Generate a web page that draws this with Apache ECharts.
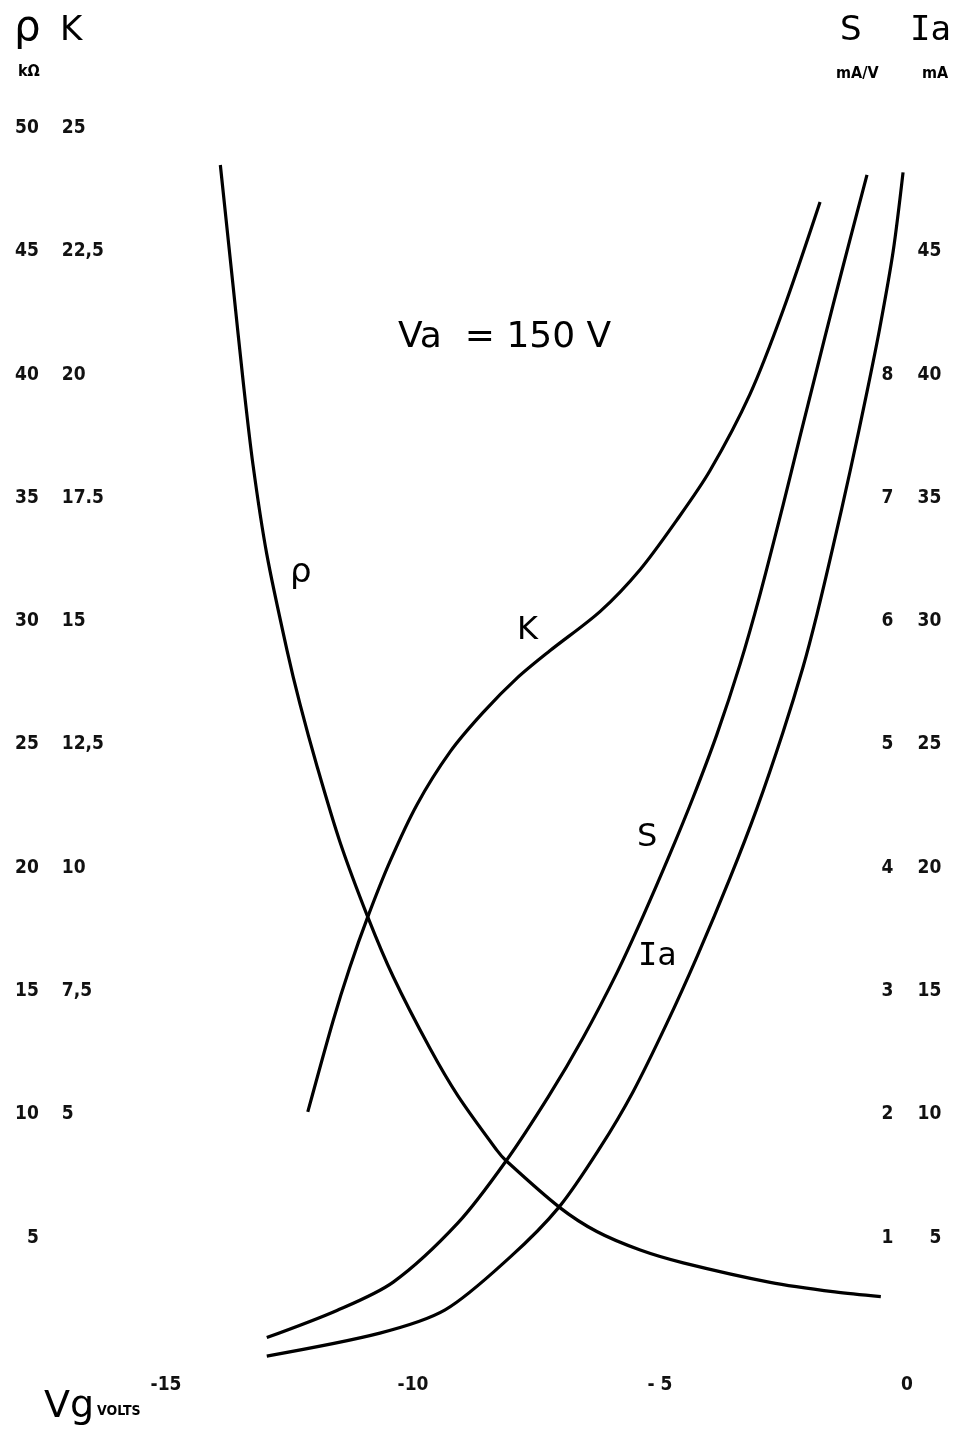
<!DOCTYPE html>
<html>
<head>
<meta charset="utf-8">
<title>Vg characteristics</title>
<script src="https://cdn.jsdelivr.net/npm/echarts@6/dist/echarts.min.js"></script>
<style>
  html, body { margin: 0; padding: 0; background: #fff; }
  #chart { width: 963px; height: 1434px; }
</style>
</head>
<body>
<div id="chart"></div>
<script>
// grid voltage ticks
const vgTicks = [-15, -10, -5, 0];
const vgTickLabels = ["-15", "-10", "- 5", "0"];

// left scales
const rhoTicks = [5, 10, 15, 20, 25, 30, 35, 40, 45, 50];
const kTicks = [5, 7.5, 10, 12.5, 15, 17.5, 20, 22.5, 25];
const kTickLabels = ["5", "7,5", "10", "12,5", "15", "17.5", "20", "22,5", "25"];

// right scales
const sTicks = [1, 2, 3, 4, 5, 6, 7, 8];
const iaTicks = [5, 10, 15, 20, 25, 30, 35, 40, 45];

// rho (kOhm) vs Vg
const rhoVg = [-13.9, -13.64, -13.44, -13.24, -12.96, -12.55, -12.29, -11.94, -11.48, -10.91, -10.4, -9.66, -9.09, -8.3, -8.12, -7.04, -6.28, -5.4, -4.53, -2.77, -1.46, -0.53];
const rhoVal = [48.5, 43.56, 39.76, 36.36, 32.72, 28.82, 26.66, 24.1, 21.06, 17.98, 15.58, 12.69, 10.75, 8.54, 8.13, 6.24, 5.25, 4.5, 3.98, 3.19, 2.8, 2.61];

// K vs Vg
const kVg = [-12.13, -11.62, -11.28, -10.91, -10.47, -9.92, -9.25, -8.58, -7.89, -7.23, -6.21, -5.4, -4.66, -3.99, -3.18, -2.51, -1.76];
const kVal = [5.05, 6.89, 7.98, 9.02, 10.12, 11.28, 12.35, 13.15, 13.85, 14.4, 15.2, 16.05, 17.05, 18.05, 19.6, 21.3, 23.5];

// S (mA/V) vs Vg
const sVg = [-12.96, -11.54, -10.4, -9.09, -8.12, -7.25, -6.56, -5.87, -5.34, -4.8, -4.33, -3.85, -3.38, -2.98, -2.51, -2.17, -1.82, -1.5, -1.15, -0.81];
const sVal = [0.19, 0.41, 0.64, 1.12, 1.62, 2.15, 2.62, 3.15, 3.61, 4.11, 4.57, 5.08, 5.65, 6.21, 6.94, 7.49, 8.05, 8.56, 9.1, 9.62];

// Ia (mA) vs Vg
const iaVg = [-12.96, -10.67, -9.35, -8.04, -7.04, -6.21, -5.55, -4.86, -4.25, -3.58, -3.04, -2.51, -2.11, -1.82, -1.5, -1.15, -0.81, -0.55, -0.28, -0.08];
const iaVal = [0.2, 1.13, 2.07, 4.2, 6.25, 8.66, 10.9, 13.7, 16.4, 19.6, 22.4, 25.5, 28.1, 30.3, 33.0, 36.1, 39.3, 41.9, 45.0, 48.2];

const pairs = (xs, ys) => xs.map((x, i) => [x, ys[i]]);

const tickFont = {
  fontFamily: "DejaVu Sans Condensed, DejaVu Sans",
  fontWeight: "bold",
  fontSize: 19,
  color: "#111",
};

const hidden = {
  axisLine: { show: false },
  axisTick: { show: false },
  splitLine: { show: false },
};

function curve(name, data, yAxisIndex) {
  return {
    name: name,
    type: "line",
    yAxisIndex: yAxisIndex,
    data: data,
    showSymbol: false,
    smooth: 0.3,
    lineStyle: { color: "#000", width: 3.2 },
    silent: true,
  };
}

function txt(text, left, top, size, extra) {
  return {
    type: "text",
    left: left,
    top: top,
    style: Object.assign({
      text: text,
      fontFamily: "DejaVu Sans",
      fontSize: size,
      fill: "#000",
    }, extra || {}),
  };
}

const chart = echarts.init(document.getElementById("chart"), null, { renderer: "canvas" });

const option = {
  backgroundColor: "#fff",
  animation: false,
  grid: { left: 17.8, width: 938.6, top: 128, height: 1233 },
  xAxis: Object.assign({
    type: "value",
    min: -18,
    max: 1,
    axisLabel: Object.assign({
      customValues: vgTicks,
      margin: 15,
      formatter: (v) => vgTickLabels[vgTicks.indexOf(v)] || "",
    }, tickFont),
  }, hidden),
  yAxis: [
    Object.assign({
      type: "value", min: 0, max: 50, position: "left", offset: -21,
      axisLabel: Object.assign({ customValues: rhoTicks, margin: 0 }, tickFont),
    }, hidden),
    Object.assign({
      type: "value", min: 0, max: 25, position: "left", offset: -44,
      axisLabel: Object.assign({
        customValues: kTicks, inside: true, margin: 0,
        formatter: (v) => kTickLabels[kTicks.indexOf(v)] || "",
      }, tickFont),
    }, hidden),
    Object.assign({
      type: "value", min: 0, max: 10, position: "right", offset: -63,
      axisLabel: Object.assign({ customValues: sTicks, inside: true, margin: 0 }, tickFont),
    }, hidden),
    Object.assign({
      type: "value", min: 0, max: 50, position: "right", offset: -15,
      axisLabel: Object.assign({ customValues: iaTicks, inside: true, margin: 0 }, tickFont),
    }, hidden),
  ],
  series: [
    curve("ρ", pairs(rhoVg, rhoVal), 0),
    curve("K", pairs(kVg, kVal), 1),
    curve("S", pairs(sVg, sVal), 2),
    curve("Ia", pairs(iaVg, iaVal), 3),
  ],
  graphic: [
    // axis titles
    txt("ρ", 14, 8, 42),
    txt("K", 60, 14, 34),
    txt("kΩ", 18, 64, 16, { fontWeight: "bold", fontFamily: "DejaVu Sans Condensed, DejaVu Sans" }),
    txt("S", 840, 14, 34),
    txt("Ia", 910, 14, 34, { fontFamily: "DejaVu Sans Mono" }),
    txt("mA/V", 836, 66, 16, { fontWeight: "bold", fontFamily: "DejaVu Sans Condensed, DejaVu Sans" }),
    txt("mA", 922, 66, 16, { fontWeight: "bold", fontFamily: "DejaVu Sans Condensed, DejaVu Sans" }),
    // condition
    txt("Va  = 150 V", 398, 320, 36),
    // curve names
    txt("ρ", 290, 556, 34),
    txt("K", 517, 615, 32),
    txt("S", 637, 822, 32),
    txt("Ia", 638, 941, 32, { fontFamily: "DejaVu Sans Mono" }),
    // x axis title
    txt("Vg", 44, 1388, 38),
    txt("VOLTS", 97, 1404, 14, { fontWeight: "bold", fontFamily: "DejaVu Sans Condensed, DejaVu Sans" }),
  ],
};

chart.setOption(option);
</script>
</body>
</html>
